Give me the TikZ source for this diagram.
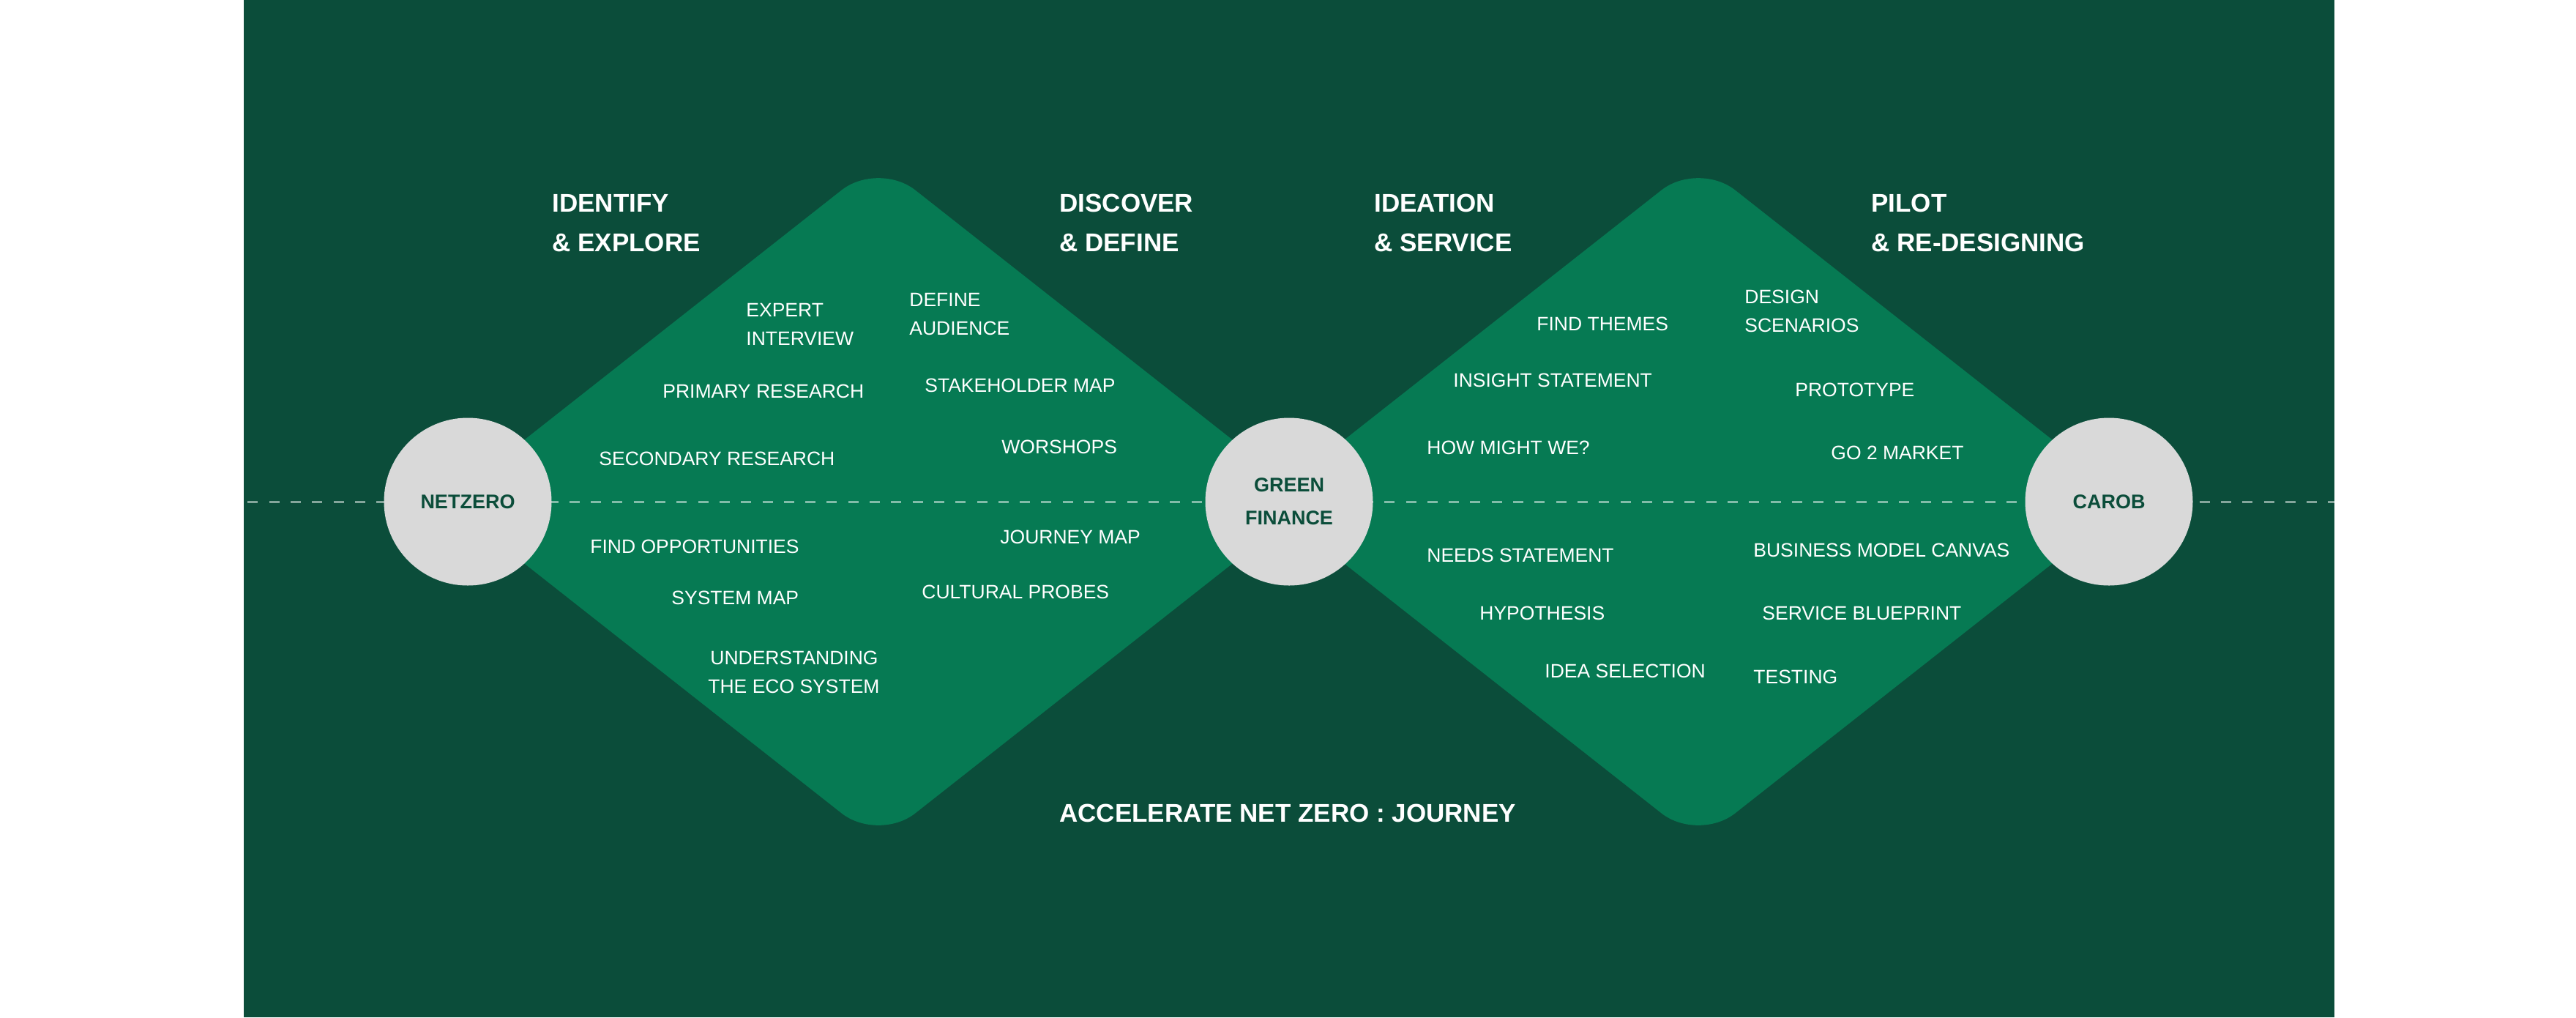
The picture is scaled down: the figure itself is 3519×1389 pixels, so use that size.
\documentclass[tikz,border=0pt]{standalone}
\usepackage{fontspec}
\setmainfont{Liberation Sans}
\definecolor{bgdark}{HTML}{0B4D3A}
\definecolor{dmd}{HTML}{067A53}
\definecolor{circ}{HTML}{D9D9D9}
\definecolor{ctext}{HTML}{0B4D3A}
\begin{document}
\begin{tikzpicture}[x=0.5pt,y=-0.5pt,
  item/.style={anchor=base west,inner sep=0pt,text=white,font=\fontsize{13.25}{16}\selectfont},
  head/.style={anchor=base west,inner sep=0pt,text=white,font=\bfseries\fontsize{17.5}{21}\selectfont},
  hub/.style={circle,fill=circ,minimum size=114.5pt,inner sep=0pt,text=ctext,align=center,
              font=\bfseries\fontsize{13.5}{22.5}\selectfont},
  diamondfill/.style={fill=dmd,rounded corners=32pt},
  guide/.style={draw=white,draw opacity=0.5,line width=1.5pt,dash pattern=on 7pt off 7.65pt,dash phase=12pt}]
\useasboundingbox (0,0) rectangle (3519,1389);
\fill[white] (0,0) rectangle (3519,1389);
\fill[bgdark] (333,0) rectangle (3189,1389);
% diamonds
\fill[diamondfill] (609,685) -- (1200,220) -- (1791,685) -- (1200,1150) -- cycle;
\fill[diamondfill] (1729,685) -- (2320,220) -- (2911,685) -- (2320,1150) -- cycle;
% dashed axis
\coordinate (dl) at (333,685);
\coordinate (dr) at (3189,685);
\draw[guide] (dl) -- (dr);
% hubs
\node[hub] (nz) at (639,685) {NETZERO};
\node[hub] (gf) at (1761,685) {GREEN\\FINANCE};
\node[hub] (cb) at (2881,685) {CAROB};
% headings
\node[head] (h1a) at (754,289) {IDENTIFY};
\node[head] (h1b) at (754,343) {\& EXPLORE};
\node[head] (h2a) at (1447,289) {DISCOVER};
\node[head] (h2b) at (1447,343) {\& DEFINE};
\node[head] (h3a) at (1877,289) {IDEATION};
\node[head] (h3b) at (1877,343) {\& SERVICE};
\node[head] (h4a) at (2556,289) {PILOT};
\node[head] (h4b) at (2556,343) {\& RE-DESIGNING};
\node[head] (foot) at (1447,1122) {ACCELERATE NET ZERO : JOURNEY};
% left diamond items
\node[item] (i1a) at (1019,432) {EXPERT};
\node[item] (i1b) at (1019,471) {INTERVIEW};
\node[item] (i2a) at (1242,418) {DEFINE};
\node[item] (i2b) at (1242,457) {AUDIENCE};
\node[item] (i3) at (905,543) {PRIMARY RESEARCH};
\node[item] (i4) at (1263,535) {STAKEHOLDER MAP};
\node[item] (i5) at (818,635) {SECONDARY RESEARCH};
\node[item] (i6) at (1368,619) {WORSHOPS};
\node[item] (i7) at (806,755) {FIND OPPORTUNITIES};
\node[item] (i8) at (917,825) {SYSTEM MAP};
\node[item] (i9a) at (970,907) {UNDERSTANDING};
\node[item] (i9b) at (967,946) {THE ECO SYSTEM};
\node[item] (i10) at (1366,742) {JOURNEY MAP};
\node[item] (i11) at (1259,817) {CULTURAL PROBES};
% right diamond items
\node[item] (j1) at (2099,451) {FIND THEMES};
\node[item] (j2a) at (2383,414) {DESIGN};
\node[item] (j2b) at (2383,453) {SCENARIOS};
\node[item] (j3) at (1985,528) {INSIGHT STATEMENT};
\node[item] (j4) at (2452,541) {PROTOTYPE};
\node[item] (j5) at (1949,620) {HOW MIGHT WE?};
\node[item] (j6) at (2501,627) {GO 2 MARKET};
\node[item] (j7) at (1949,767) {NEEDS STATEMENT};
\node[item] (j8) at (2021,846) {HYPOTHESIS};
\node[item] (j9) at (2110,925) {IDEA SELECTION};
\node[item] (j10) at (2395,760) {BUSINESS MODEL CANVAS};
\node[item] (j11) at (2407,846) {SERVICE BLUEPRINT};
\node[item] (j12) at (2395,933) {TESTING};
\end{tikzpicture}
\end{document}
